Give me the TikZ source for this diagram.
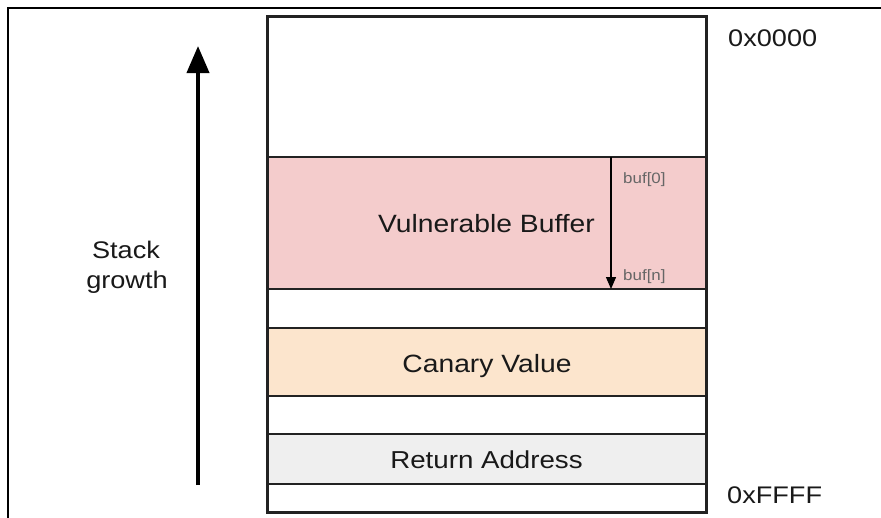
\documentclass[tikz,border=0pt]{standalone}
\usepackage{fontspec}
\setmainfont{Liberation Sans}[FakeStretch=1.13]
\usetikzlibrary{arrows.meta}
\definecolor{bufpink}{HTML}{F4CCCC}
\definecolor{canary}{HTML}{FCE5CD}
\definecolor{retgray}{HTML}{EFEFEF}
\definecolor{edge}{HTML}{222222}
\definecolor{smalltxt}{HTML}{666666}
\tikzset{
  cell/.style={draw=edge, line width=1.6pt, rectangle, inner sep=0pt, minimum width=438pt},
  bigtxt/.style={font=\fontsize{25}{30}\selectfont, text=black!90, inner sep=0pt, anchor=base},
  addrtxt/.style={font=\fontsize{24}{29}\selectfont, text=black!90, inner sep=0pt, anchor=base west},
  smalllbl/.style={font=\fontsize{15}{17}\selectfont, text=smalltxt, inner sep=0pt, anchor=base west},
}
\begin{document}
\begin{tikzpicture}[x=1pt,y=-1pt]
\useasboundingbox (0,0) rectangle (881,517);
\fill[white] (0,0) rectangle (881,517);
% outer frame (top and left edges)
\draw[line width=2.5pt, black] (8,530) -- (8,8) -- (900,8);
% stack cells
\node[cell, fill=white, minimum height=140pt] (top) at (487,87) {};
\node[cell, fill=bufpink, minimum height=132pt] (buf) at (487,223) {};
\node[cell, fill=white, minimum height=39pt] (gap1) at (487,308.5) {};
\node[cell, fill=canary, minimum height=68pt] (can) at (487,362) {};
\node[cell, fill=white, minimum height=38pt] (gap2) at (487,415) {};
\node[cell, fill=retgray, minimum height=50pt] (ret) at (487,459) {};
\node[cell, fill=white, minimum height=28pt] (bot) at (487,498) {};
\draw[draw=edge, line width=2.2pt] (top.north west) rectangle (bot.south east);
% texts
\node[bigtxt] (vb) at (486.5,232) {Vulnerable Buffer};
\node[bigtxt] (cv) at (487,372) {Canary Value};
\node[bigtxt, font=\fontsize{24.5}{28}\selectfont] (ra) at (486.5,468) {Return Address};
% buffer index arrow
\coordinate (b0) at (611,157);
\coordinate (bn) at (611,289);
\draw[draw=black, line width=1.3pt, -{Triangle[width=10pt,length=12pt]}] (b0) -- (bn);
\node[smalllbl] (l0) at (623,183) {buf[0]};
\node[smalllbl] (ln) at (623,280) {buf[n]};
% addresses
\node[addrtxt] (a0) at (728,46) {0x0000};
\node[addrtxt] (af) at (727,503) {0xFFFF};
% stack growth
\coordinate (gs) at (198,485);
\coordinate (ge) at (198,46);
\draw[line width=4pt, black, -{Triangle[width=22pt,length=27pt]}] (gs) -- (ge);
\node[bigtxt, font=\fontsize{24}{30}\selectfont] (sg1) at (126,258) {Stack};
\node[bigtxt, font=\fontsize{24}{30}\selectfont] (sg2) at (127,288) {growth};
\end{tikzpicture}
\end{document}
